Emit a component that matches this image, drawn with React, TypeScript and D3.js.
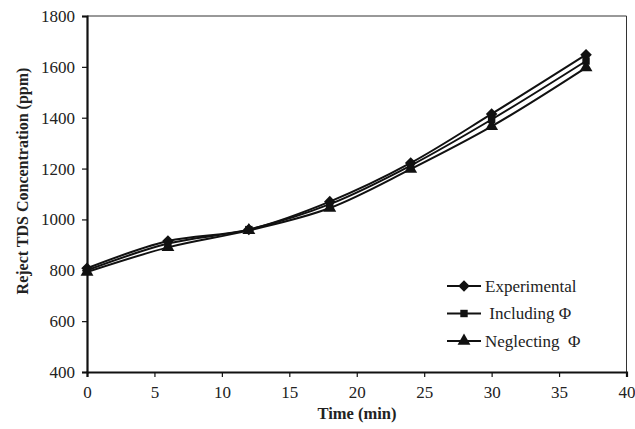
import { useEffect, useRef } from "react";
import * as d3 from "d3";

const times = [0, 6, 12, 18, 24, 30, 37];
const experimental = [808, 915, 960, 1070, 1222, 1415, 1648];
const includingPhi = [800, 905, 960, 1060, 1212, 1393, 1623];
const neglectingPhi = [793, 890, 957, 1045, 1198, 1366, 1597];
const xTicks = [0, 5, 10, 15, 20, 25, 30, 35, 40];
const yTicks = [400, 600, 800, 1000, 1200, 1400, 1600, 1800];
const seriesNames = ["Experimental", " Including \u03A6", "Neglecting  \u03A6"];
const markerTypes = [d3.symbolDiamond2, d3.symbolSquare, d3.symbolTriangle];
const markerSizes = [85, 55, 72];

const App = () => {
  const ref = useRef<SVGSVGElement>(null);

  useEffect(() => {
    const width = 635, height = 429;
    const m = { left: 87, right: 8.5, top: 16, bottom: 57 };
    const font = "Liberation Serif, Times New Roman, serif";

    const svg = d3.select(ref.current).html("")
      .attr("width", width).attr("height", height)
      .style("font-family", font);

    const x = d3.scaleLinear().domain([0, 40]).range([m.left, width - m.right]);
    const y = d3.scaleLinear().domain([400, 1800]).range([height - m.bottom, m.top]);

    // thin frame on top and right
    svg.append("path")
      .attr("d", `M${x(0)},${y(1800)}H${x(40)}V${y(400)}`)
      .attr("fill", "none").attr("stroke", "#333").attr("stroke-width", 1);

    const xAxis = svg.append("g")
      .attr("transform", `translate(0,${y(400)})`)
      .call(d3.axisBottom(x).tickValues(xTicks).tickFormat(d3.format("d")).tickSizeOuter(0).tickSize(5).tickPadding(6));
    const yAxis = svg.append("g")
      .attr("transform", `translate(${x(0)},0)`)
      .call(d3.axisLeft(y).tickValues(yTicks).tickFormat(d3.format("d")).tickSizeOuter(0).tickSize(5).tickPadding(7));

    [xAxis, yAxis].forEach(a => {
      a.attr("font-family", null).attr("font-size", null);
      a.select(".domain").attr("stroke", "#111").attr("stroke-width", 2.2);
      a.selectAll(".tick line").attr("stroke", "#111").attr("stroke-width", 1.2);
      a.selectAll("text").style("font-family", font).style("font-size", "17px").attr("fill", "#222");
    });
    xAxis.selectAll("text").attr("dy", "0.9em");

    svg.append("text")
      .attr("x", 357).attr("y", 419)
      .attr("text-anchor", "middle")
      .style("font-size", "16.5px").attr("font-weight", "bold").attr("fill", "#222")
      .text("Time (min)");

    svg.append("text")
      .attr("transform", "translate(28,181) rotate(-90)")
      .attr("text-anchor", "middle")
      .style("font-size", "16px").attr("font-weight", "bold").attr("fill", "#222")
      .text("Reject TDS Concentration (ppm)");

    const allSeries = [experimental, includingPhi, neglectingPhi];
    const line = d3.line<number>()
      .x((d, i) => x(times[i]))
      .y(d => y(d))
      .curve(d3.curveMonotoneX);

    allSeries.forEach((vals, si) => {
      svg.append("path")
        .attr("d", line(vals))
        .attr("fill", "none").attr("stroke", "#111").attr("stroke-width", 2);
      svg.selectAll(null)
        .data(vals)
        .enter()
        .append("path")
        .attr("d", d3.symbol().type(markerTypes[si]).size(markerSizes[si])())
        .attr("transform", (d, i) => `translate(${x(times[i])},${y(d)})`)
        .attr("fill", "#111");
    });

    // legend
    const lg = svg.append("g").attr("transform", "translate(447,286)");
    seriesNames.forEach((name, i) => {
      const row = lg.append("g").attr("transform", `translate(0,${i * 27.5})`);
      row.append("line").attr("x1", 0).attr("x2", 34).attr("y1", 0).attr("y2", 0)
        .attr("stroke", "#111").attr("stroke-width", 2);
      row.append("path")
        .attr("d", d3.symbol().type(markerTypes[i]).size(markerSizes[i])())
        .attr("transform", "translate(17,0)").attr("fill", "#111");
      row.append("text").attr("x", 38).attr("y", 0).attr("dy", "0.35em")
        .style("font-size", "17px").style("white-space", "pre")
        .attr("fill", "#222").text(name);
    });
  }, []);

  return (
    <svg
      ref={ref}
      style={{ position: "absolute", left: 0, top: 0, display: "block", overflow: "visible" }}
    ></svg>
  );
};

export default App;
